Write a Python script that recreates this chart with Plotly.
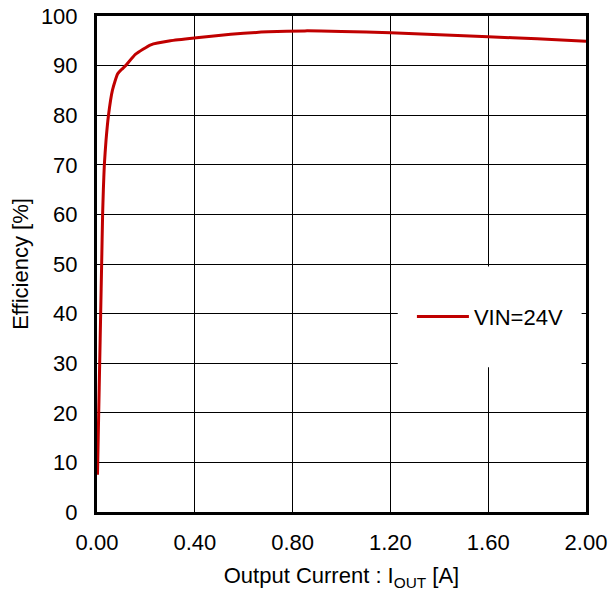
import plotly.graph_objects as go

current_a = [0.002, 0.003, 0.007, 0.011, 0.015, 0.019, 0.023, 0.026, 0.030, 0.037, 0.047, 0.063, 0.084, 0.100,
             0.117, 0.158, 0.220, 0.300, 0.407, 0.547, 0.700, 0.850, 1.000,
             1.200, 1.400, 1.600, 1.800, 2.000]
efficiency = [7.5, 10.0, 20.0, 30.0, 40.0, 50.0, 60.0, 65.0, 70.0, 75.0, 80.0, 85.0, 88.3, 89.2,
              90.0, 92.3, 94.2, 95.0, 95.6, 96.3, 96.8, 97.0, 96.9,
              96.6, 96.2, 95.8, 95.4, 94.9]
series_name = "VIN=24V"
x_ticks = [0.0, 0.4, 0.8, 1.2, 1.6, 2.0]
x_tick_labels = ["0.00", "0.40", "0.80", "1.20", "1.60", "2.00"]
y_ticks = list(range(0, 101, 10))

fig = go.Figure()
fig.add_trace(go.Scatter(x=current_a, y=efficiency, mode="lines", name=series_name,
                         line=dict(color="#C00000", width=3, shape="spline", smoothing=0.5)))

font_family = "Liberation Sans, Arial, sans-serif"
fig.update_layout(
    width=612, height=594,
    margin=dict(l=97, r=26, t=16, b=82),
    paper_bgcolor="white", plot_bgcolor="white",
    font=dict(family=font_family, size=22, color="black"),
    showlegend=True,
    legend=dict(x=0.644, y=0.394, xanchor="left", yanchor="middle",
                bgcolor="rgba(0,0,0,0)", font=dict(size=22), itemwidth=52),
    shapes=[dict(type="rect", xref="paper", yref="paper", x0=0.615, x1=0.991, y0=0.292, y1=0.495,
                 fillcolor="white", line=dict(width=0), layer="above")],
)
fig.update_xaxes(range=[0, 2.0], tickvals=x_ticks, ticktext=x_tick_labels,
                 showgrid=True, gridcolor="black", gridwidth=1,
                 showline=True, linecolor="black", linewidth=3, mirror=True,
                 ticks="", zeroline=False, automargin=False, ticklabelstandoff=9,
                 ticklabeloverflow="allow",
                 title=dict(text="Output Current : I<sub>OUT</sub> [A]", font=dict(size=22), standoff=14))
fig.update_yaxes(range=[0, 100], tickvals=y_ticks,
                 showgrid=True, gridcolor="black", gridwidth=1,
                 showline=True, linecolor="black", linewidth=3, mirror=True,
                 ticks="", zeroline=False, automargin=False, ticklabelstandoff=12,
                 ticklabeloverflow="allow",
                 title=dict(text="Efficiency [%]", font=dict(size=22), standoff=7))

fig.write_html("out.html", post_script="document.body.style.margin='0';",
               config={"displayModeBar": False})
